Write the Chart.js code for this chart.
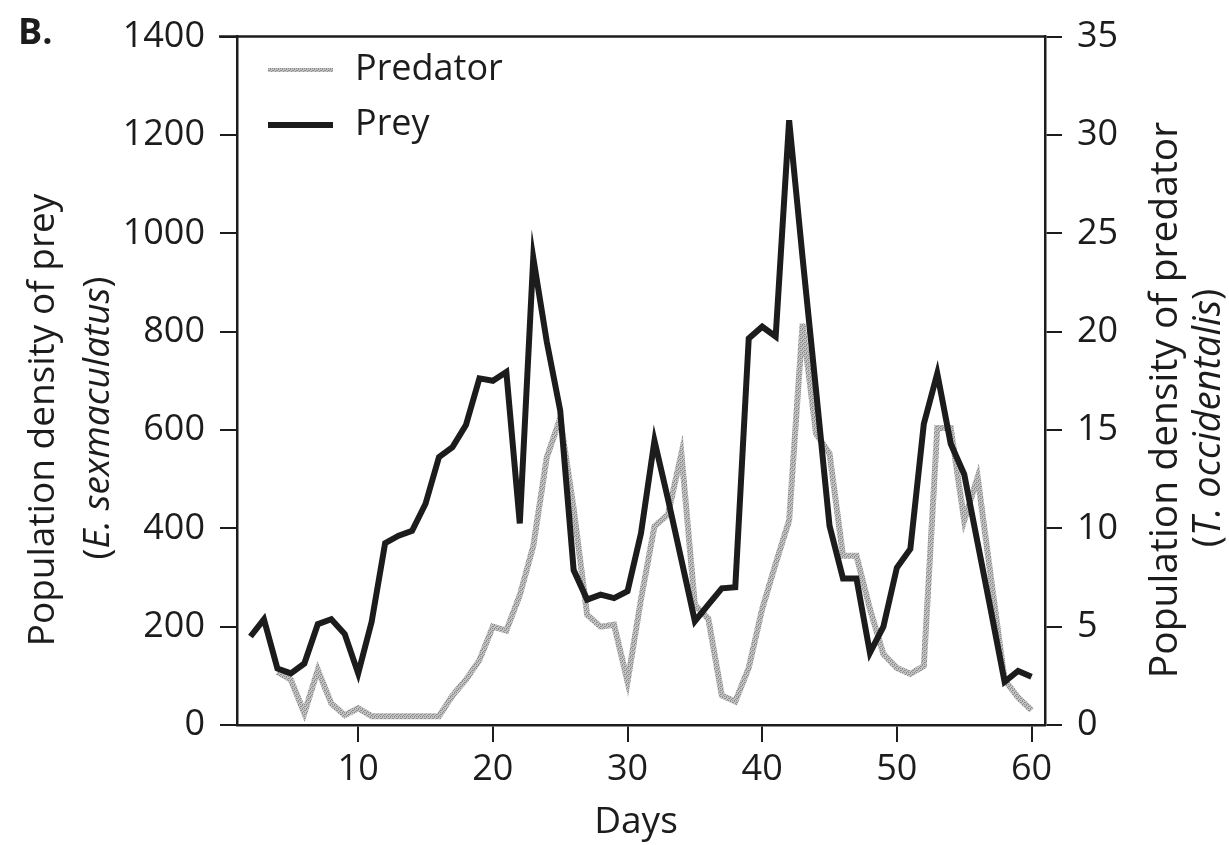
<!DOCTYPE html>
<html>
<head>
<meta charset="utf-8">
<script src="https://cdn.jsdelivr.net/npm/chart.js@4.4.0/dist/chart.umd.min.js"></script>
<style>
  html, body { margin: 0; padding: 0; background: #fff; }
  #wrap { width: 1229px; height: 845px; position: relative; }
</style>
</head>
<body>
<div id="wrap"><canvas id="myChart"></canvas></div>
<script>
// values
const preyDays = [2, 3, 4, 5, 6, 7, 8, 9, 10, 11, 12, 13, 14, 15, 16, 17, 18, 19, 20, 21,
  22, 23, 24, 25, 26, 27, 28, 29, 30, 31, 32, 33, 34, 35, 36, 37, 38, 39, 40, 41,
  42, 43, 44, 45, 46, 47, 48, 49, 50, 51, 52, 53, 54, 55, 56, 57, 58, 59, 60];
const preyValues = [180, 215, 115, 105, 125, 205, 215, 185, 105, 210, 370, 385, 395, 450, 545, 565, 610, 705, 700, 718,
  410, 950, 780, 640, 315, 255, 265, 258, 272, 390, 578, 460, 336, 211, 245, 278, 280, 786, 810, 790,
  1230, 950, 680, 405, 298, 298, 147, 200, 320, 358, 612, 715, 572, 510, 370, 230, 88, 110, 98];

const predatorDays = [4, 5, 6, 7, 8, 9, 10, 11, 12, 13, 14, 15, 16, 17, 18, 19, 20, 21,
  22, 23, 24, 25, 26, 27, 28, 29, 30, 31, 32, 33, 34, 35, 36, 37, 38, 39, 40, 41,
  42, 43, 44, 45, 46, 47, 48, 49, 50, 51, 52, 53, 54, 55, 56, 57, 58, 59, 60];
const predatorValues = [2.7, 2.3, 0.6, 2.8, 1.1, 0.5, 0.85, 0.45, 0.45, 0.45, 0.45, 0.45, 0.45, 1.5, 2.3, 3.3, 5.0, 4.8,
  6.6, 9.1, 13.6, 15.6, 11.0, 5.6, 5.0, 5.1, 2.2, 6.4, 10.1, 10.7, 13.8, 6.1, 5.4, 1.5, 1.2, 2.9, 5.9, 8.2,
  10.4, 20.4, 14.8, 13.8, 8.6, 8.6, 5.9, 3.6, 2.9, 2.6, 3.0, 15.1, 15.1, 10.4, 12.6, 7.4, 2.3, 1.4, 0.75];

const dayTicks = [10, 20, 30, 40, 50, 60];
const preyTicks = [0, 200, 400, 600, 800, 1000, 1200, 1400];
const predatorTicks = [0, 5, 10, 15, 20, 25, 30, 35];

const FONT = "'Open Sans', sans-serif";
const INK = '#1c1c1c';

// stippled grey like the printed predator line
function greyPattern() {
  const c = document.createElement('canvas');
  c.width = 4; c.height = 4;
  const g = c.getContext('2d');
  g.fillStyle = '#c4c4c4';
  g.fillRect(0, 0, 4, 4);
  g.fillStyle = '#8e8e8e';
  g.fillRect(0, 0, 1, 1); g.fillRect(2, 1, 1, 1); g.fillRect(1, 2, 1, 1); g.fillRect(3, 3, 1, 1);
  g.fillRect(2, 0, 1, 1); g.fillRect(0, 2, 1, 1);
  return g.createPattern(c, 'repeat');
}

// draws a line of text turned 90deg, made of parts with their own style
function drawTurned(ctx, cx, cy, parts, size) {
  ctx.save();
  ctx.translate(cx, cy);
  ctx.rotate(-Math.PI / 2);
  ctx.textBaseline = 'middle';
  ctx.textAlign = 'left';
  ctx.fillStyle = INK;
  let total = 0;
  parts.forEach(p => {
    ctx.font = (p.italic ? 'italic ' : '') + size + 'px ' + FONT;
    p.w = ctx.measureText(p.text).width;
    total += p.w;
  });
  let x = -total / 2;
  parts.forEach(p => {
    ctx.font = (p.italic ? 'italic ' : '') + size + 'px ' + FONT;
    ctx.fillText(p.text, x, 0);
    x += p.w;
  });
  ctx.restore();
}

const frameAndText = {
  id: 'frameAndText',
  afterDraw(chart) {
    const ctx = chart.ctx;
    const a = chart.chartArea;
    ctx.save();
    // top edge of the frame
    ctx.strokeStyle = INK;
    ctx.lineWidth = 2.5;
    ctx.beginPath();
    ctx.moveTo(a.left - 18, a.top);
    ctx.lineTo(a.right, a.top);
    ctx.stroke();

    // legend
    const rows = [
      { ds: chart.data.datasets[0], y: 70, w: 4 },
      { ds: chart.data.datasets[1], y: 125, w: 6 }
    ];
    rows.forEach(r => {
      ctx.strokeStyle = r.ds.borderColor;
      ctx.lineWidth = r.w;
      ctx.beginPath();
      ctx.moveTo(268, r.y);
      ctx.lineTo(333, r.y);
      ctx.stroke();
      ctx.fillStyle = INK;
      ctx.font = '36px ' + FONT;
      ctx.textBaseline = 'middle';
      ctx.textAlign = 'left';
      ctx.fillText(r.ds.label, 355, r.y);
    });

    // panel letter
    ctx.font = 'bold 36px ' + FONT;
    ctx.textBaseline = 'middle';
    ctx.fillText('B.', 18, 34);

    // x title
    ctx.font = '37px ' + FONT;
    ctx.textAlign = 'center';
    ctx.fillText('Days', 636, 822);
    ctx.restore();

    drawTurned(ctx, 43, 420, [{ text: 'Population density of prey' }], 37);
    drawTurned(ctx, 98, 418, [{ text: '(' }, { text: 'E. sexmaculatus', italic: true }, { text: ')' }], 37);
    drawTurned(ctx, 1166, 400, [{ text: 'Population density of predator' }], 39);
    drawTurned(ctx, 1209, 418, [{ text: '(' }, { text: 'T. occidentalis', italic: true }, { text: ')' }], 38);
  }
};

const tickFont = { family: FONT, size: 36 };
const plain = v => String(v);

const ctx = document.getElementById('myChart').getContext('2d');
const myChart = new Chart(ctx, {
  type: 'line',
  data: {
    datasets: [
      {
        label: 'Predator',
        data: predatorDays.map((d, i) => ({ x: d, y: predatorValues[i] })),
        yAxisID: 'yPred',
        borderColor: greyPattern(),
        borderWidth: 6,
        pointRadius: 0,
        tension: 0,
        fill: false,
        order: 2
      },
      {
        label: 'Prey',
        data: preyDays.map((d, i) => ({ x: d, y: preyValues[i] })),
        yAxisID: 'yPrey',
        borderColor: INK,
        borderWidth: 6,
        pointRadius: 0,
        tension: 0,
        fill: false,
        order: 1
      }
    ]
  },
  options: {
    responsive: true,
    maintainAspectRatio: false,
    animation: false,
    layout: { padding: { top: 28, left: 0, right: 0, bottom: 0 } },
    plugins: { legend: { display: false }, tooltip: { enabled: false } },
    scales: {
      x: {
        type: 'linear',
        position: 'bottom',
        min: 1,
        max: 61,
        afterBuildTicks: s => { s.ticks = dayTicks.map(v => ({ value: v })); },
        afterFit: s => { s.height = 120; },
        grid: { drawOnChartArea: false, tickLength: 17, color: INK, lineWidth: 2 },
        border: { color: INK, width: 2.5 },
        ticks: { font: tickFont, color: INK, padding: 6, maxRotation: 0, callback: plain }
      },
      yPrey: {
        type: 'linear',
        position: 'left',
        min: 0,
        max: 1400,
        afterBuildTicks: s => { s.ticks = preyTicks.map(v => ({ value: v })); },
        afterFit: s => { s.width = 237; },
        grid: { drawOnChartArea: false, tickLength: 17, color: INK, lineWidth: 2 },
        border: { color: INK, width: 2.5 },
        ticks: { font: tickFont, color: INK, padding: 15, callback: plain }
      },
      yPred: {
        type: 'linear',
        position: 'right',
        min: 0,
        max: 35,
        afterBuildTicks: s => { s.ticks = predatorTicks.map(v => ({ value: v })); },
        afterFit: s => { s.width = 184; },
        grid: { drawOnChartArea: false, tickLength: 17, color: INK, lineWidth: 2 },
        border: { color: INK, width: 2.5 },
        ticks: { font: tickFont, color: INK, padding: 15, callback: plain }
      }
    }
  },
  plugins: [frameAndText]
});
</script>
</body>
</html>
